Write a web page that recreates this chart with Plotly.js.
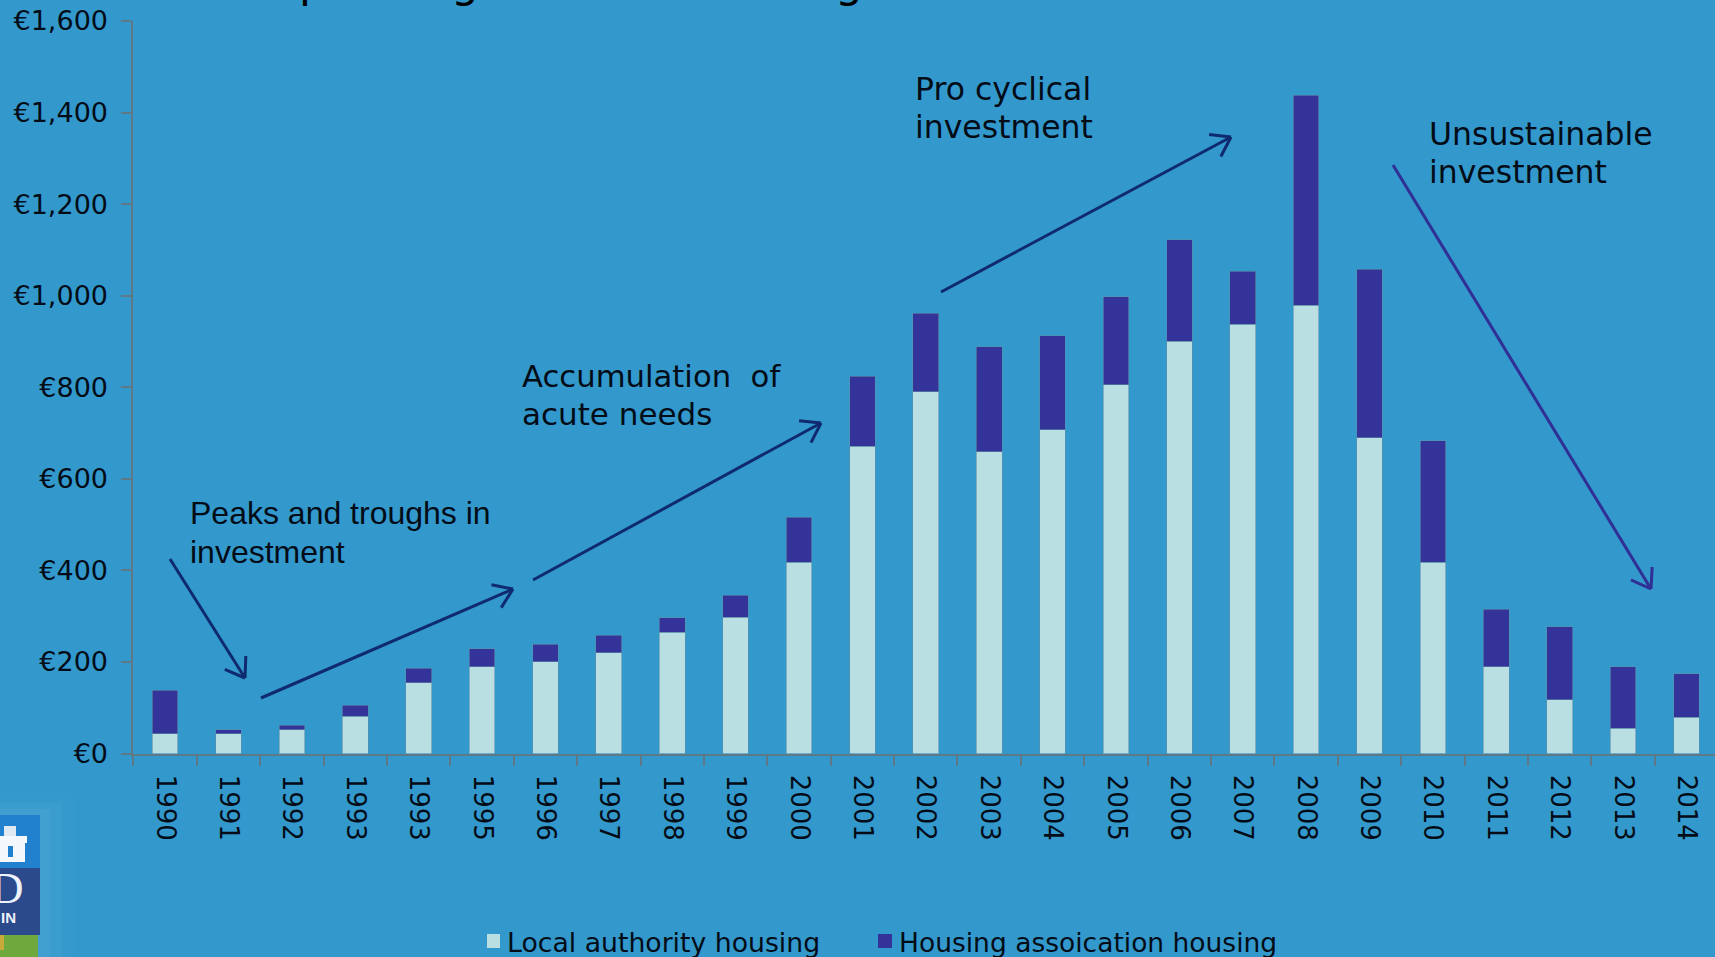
<!DOCTYPE html>
<html><head><meta charset="utf-8">
<script src="https://cdn.plot.ly/plotly-3.0.1.min.js"></script>
<style>html,body{margin:0;padding:0;background:#3398CC;overflow:hidden}</style>
</head><body><div id="chart" style="width:1715px;height:957px"></div>
<script>
const years = ["1990","1991","1992","1993","1993","1995","1996","1997","1998","1999","2000","2001","2002","2003","2004","2005","2006","2007","2008","2009","2010","2011","2012","2013","2014"];
const localAuthority = [43,43,52,81,155,189,200,220,265,298,418,671,790,659,707,805,900,938,979,690,418,189,117,55,79];
const housingAssociation = [95,9,10,24,31,40,39,38,31,48,98,153,172,229,205,193,222,115,459,368,265,126,160,134,95];
const yTicks = [0,200,400,600,800,1000,1200,1400,1600];
const yTickLabels = ["€0","€200","€400","€600","€800","€1,000","€1,200","€1,400","€1,600"];
const seriesNames = ["Local authority housing","Housing assoication housing"];
const seriesColors = ["#B9DFE3","#333399"];

const W = 1715, H = 957;
const px = v => v / W, py = v => 1 - v / H;
const slots = years.map((_, i) => i);

const ARROW_NAVY = "#0f2a6e", ARROW_BLUE = "#2f2f96";
const arrows = [
  [170,559,245,678,ARROW_NAVY],
  [261,698,513,589,ARROW_NAVY],
  [533,580,821,423,ARROW_NAVY],
  [941,292,1231,137,ARROW_NAVY],
  [1393,165,1651,589,ARROW_BLUE]
];
const shapes = [];
function seg(x0,y0,x1,y1,color,w){
  shapes.push({type:"line",xref:"paper",yref:"paper",x0:px(x0),y0:py(y0),x1:px(x1),y1:py(y1),line:{color:color,width:w}});
}
arrows.forEach(a=>{
  const [x0,y0,x1,y1,c]=a;
  seg(x0,y0,x1,y1,c,3);
  const ang=Math.atan2(y1-y0,x1-x0), L=22;
  [0.6,-0.6].forEach(d=>seg(x1,y1,x1-L*Math.cos(ang+d),y1-L*Math.sin(ang+d),c,3));
});
function box(x0,y0,x1,y1,color,op){
  shapes.push({type:"rect",xref:"paper",yref:"paper",x0:px(x0),y0:py(y0),x1:px(x1),y1:py(y1),fillcolor:color,opacity:op===undefined?1:op,line:{width:0},layer:"below"});
}
// soft glow round the crest, then the crest itself
box(0,795,75,957,"#5fb0da",0.07);
box(0,803,62,957,"#6cb8de",0.10);
box(0,809,50,957,"#6cb8de",0.14);
box(0,815,40,868,"#2281cf");
box(0,868,40,935,"#2a4a8c");
box(0,935,38,957,"#6fa83c");
box(0,935,4,950,"#c9a93a");
// tower
box(0,841,25,862,"#f4f7fb");
box(0,836,27,843,"#f4f7fb");
box(8,846,13,857,"#2281cf");
box(4,826,16,836,"#dfe9f4");
// legend swatches
box(487,934,500,948,seriesColors[0]);
box(878,934,892,948,seriesColors[1]);

const INK = "#030c16";
const annText = (x,y,text,font,size) => ({xref:"paper",yref:"paper",x:px(x),y:py(y),xanchor:"left",yanchor:"middle",align:"left",showarrow:false,text:text,font:{family:font,size:size,color:INK}});
const DJ = "DejaVu Sans", LS = "Liberation Sans";
const annotations = [
  annText(188,513,"Peaks and troughs in",LS,32),
  annText(188,552,"investment",LS,32),
  annText(520,376,"Accumulation  of",DJ,30.7),
  annText(520,414,"acute needs",DJ,31),
  annText(913,89,"Pro cyclical",DJ,31.5),
  annText(913,127,"investment",DJ,31.5),
  annText(1427,134,"Unsustainable",DJ,31.5),
  annText(1427,172,"investment",DJ,31.5),
  annText(505,942,seriesNames[0],DJ,26.7),
  annText(897,942,seriesNames[1],DJ,26.5),
  // descenders of the heading, cut off by the top of the page
  {xref:"paper",yref:"paper",x:px(313),y:py(7),xanchor:"center",yanchor:"bottom",yshift:-2,showarrow:false,text:"p",font:{family:DJ,size:44,color:"#000"}},
  {xref:"paper",yref:"paper",x:px(465),y:py(7),xanchor:"center",yanchor:"bottom",yshift:-2,showarrow:false,text:"g",font:{family:DJ,size:44,color:"#000"}},
  {xref:"paper",yref:"paper",x:px(849),y:py(7),xanchor:"center",yanchor:"bottom",yshift:-2,showarrow:false,text:"g",font:{family:DJ,size:44,color:"#000"}},
  // crest lettering
  {xref:"paper",yref:"paper",x:px(7),y:py(888),xanchor:"center",yanchor:"middle",showarrow:false,text:"D",font:{family:"Liberation Serif",size:45,color:"#eef2fa"}},
  {xref:"paper",yref:"paper",x:px(8),y:py(917),xanchor:"center",yanchor:"middle",showarrow:false,text:"<b>IN</b>",font:{family:LS,size:15,color:"#eef2fa"}}
];

const bar = (name,y,color) => ({type:"bar",name:name,x:slots,y:y,width:0.405,marker:{color:color,line:{color:"#5b8fa8",width:0.6}},hoverinfo:"skip"});
const data = [
  bar(seriesNames[0],localAuthority,seriesColors[0]),
  bar(seriesNames[1],housingAssociation,seriesColors[1])
];
const AXIS = "#5f7886";
const layout = {
  width:W,height:H,margin:{l:0,r:0,t:0,b:0,pad:0,autoexpand:false},
  paper_bgcolor:"#3398CC",plot_bgcolor:"rgba(0,0,0,0)",
  barmode:"stack",
  font:{family:DJ,color:INK},
  xaxis:{domain:[px(133.4),1],range:[-0.5,24.45],showgrid:false,zeroline:false,showline:true,linecolor:AXIS,linewidth:2,
    tickmode:"array",tickvals:slots,ticktext:years,tickangle:90,ticks:"",ticklabelstandoff:14,tickfont:{family:DJ,size:26,color:INK},
    minor:{tick0:-0.5,dtick:1,ticks:"outside",ticklen:10,tickcolor:AXIS,tickwidth:2,showgrid:false}},
  yaxis:{domain:[py(753.5),py(21)],range:[0,1600],showgrid:false,zeroline:false,showline:true,linecolor:AXIS,linewidth:2,
    tickmode:"array",tickvals:yTicks,ticktext:yTickLabels,ticks:"outside",ticklen:10,tickcolor:AXIS,tickwidth:2,ticklabelstandoff:8,tickfont:{family:DJ,size:27,color:INK}},
  showlegend:false,
  shapes:shapes,annotations:annotations
};
Plotly.newPlot("chart",data,layout,{displayModeBar:false,staticPlot:true});
</script></body></html>
